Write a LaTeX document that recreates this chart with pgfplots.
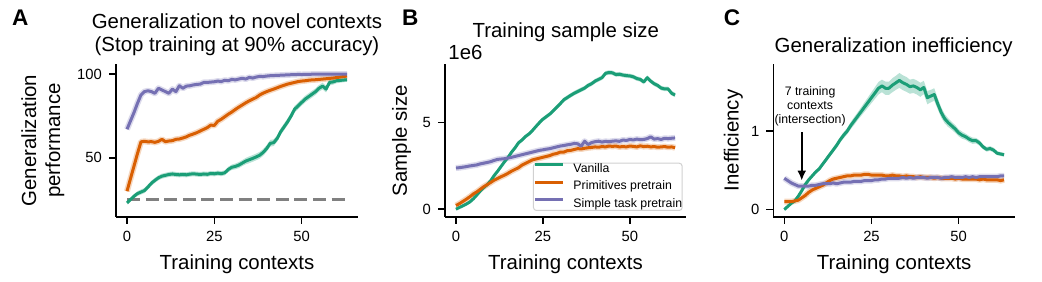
\documentclass[border=0pt]{standalone}
\usepackage{pgfplots}
\pgfplotsset{compat=1.18}
\usepackage{pgfplotstable}
\usepgfplotslibrary{fillbetween}
\usetikzlibrary{arrows.meta}
\usepackage{fontspec}
\setmainfont{Liberation Sans}
\definecolor{cg}{HTML}{1B9E77}
\definecolor{co}{HTML}{D95F02}
\definecolor{cp}{HTML}{7570B3}
\newcommand\tickfont{\fontsize{7.4}{8.8}\selectfont}
\newcommand\labfont{\fontsize{10.2}{12}\selectfont}
\newcommand\smallfont{\fontsize{6.15}{7}\selectfont}
\newcommand\letfont{\fontsize{11.3}{13}\selectfont\bfseries}

\pgfplotstableread{
x g ge o p
0 23.0 1.0 30.0 67.0
1 25.0 1.2 37.5 72.0
2 27.0 1.3 45.0 77.0
3 28.6 1.4 52.5 82.5
4 29.5 1.5 59.5 87.5
5 30.4 1.5 59.8 89.5
6 32.5 1.5 59.5 90.0
7 34.8 1.5 59.6 89.5
8 36.5 1.5 59.2 88.5
9 38.0 1.5 59.8 91.5
10 39.0 1.5 61.0 90.5
11 39.5 1.5 59.6 89.5
12 40.0 1.5 60.0 88.5
13 40.3 1.5 60.2 91.0
14 40.0 1.5 61.0 89.5
15 39.8 1.5 61.2 93.0
16 40.0 1.5 61.8 91.5
17 39.8 1.5 62.5 92.8
18 40.2 1.5 63.5 93.0
19 40.4 1.5 64.2 93.5
20 40.2 1.5 65.0 93.8
21 40.0 1.5 66.0 94.0
22 40.3 1.5 67.0 95.0
23 40.1 1.5 68.0 95.0
24 40.6 1.5 69.5 95.2
25 40.4 1.5 69.3 95.4
26 40.8 1.5 71.8 95.8
27 40.5 1.5 73.0 95.5
28 41.0 1.5 74.5 96.3
29 43.0 1.6 76.0 96.0
30 44.3 1.6 77.3 96.8
31 44.8 1.7 78.8 96.5
32 45.6 1.8 80.2 97.0
33 46.8 1.8 81.5 97.5
34 48.0 1.9 82.8 97.0
35 48.8 2.0 84.0 98.0
36 49.6 2.0 85.0 97.6
37 50.5 2.0 86.0 98.2
38 51.5 2.0 87.5 98.6
39 53.2 2.0 88.6 98.5
40 55.5 2.0 89.5 98.8
41 58.6 2.0 90.3 99.0
42 59.0 2.0 91.0 99.1
43 61.5 2.0 91.8 99.2
44 65.5 2.0 92.6 99.3
45 68.5 2.0 93.3 99.4
46 71.5 2.0 94.0 99.5
47 75.0 2.0 94.5 99.6
48 79.0 2.0 95.0 99.6
49 81.0 2.0 95.5 99.8
50 83.0 2.0 95.8 99.7
51 85.0 2.0 96.0 99.8
52 86.5 2.0 96.3 99.8
53 88.0 2.0 96.5 99.9
54 89.5 2.0 96.6 99.9
55 91.5 2.0 96.8 99.9
56 92.8 2.0 97.0 100.0
57 91.0 2.0 97.2 99.9
58 95.0 1.8 97.4 100.0
59 95.3 1.6 97.6 100.0
60 96.0 1.5 97.9 100.0
61 96.2 1.4 98.2 100.0
62 96.4 1.3 98.5 100.0
63 96.6 1.2 98.8 100.0
}\dataA

\pgfplotstableread{
x g ge o p
0 0.00 0.05 0.21 2.38
1 0.10 0.05 0.32 2.40
2 0.20 0.05 0.45 2.43
3 0.30 0.05 0.58 2.46
4 0.42 0.06 0.72 2.50
5 0.60 0.06 0.88 2.53
6 0.82 0.07 1.00 2.56
7 1.05 0.07 1.15 2.62
8 1.25 0.08 1.30 2.66
9 1.42 0.08 1.42 2.70
10 1.65 0.08 1.55 2.75
11 1.95 0.09 1.68 2.82
12 2.20 0.09 1.78 2.88
13 2.48 0.10 1.88 2.90
14 2.75 0.10 1.97 2.92
15 3.00 0.10 2.08 2.96
16 3.30 0.10 2.20 3.00
17 3.55 0.10 2.30 3.05
18 3.84 0.10 2.40 3.10
19 4.00 0.11 2.55 3.15
20 4.20 0.11 2.65 3.20
21 4.35 0.11 2.75 3.25
22 4.55 0.11 2.85 3.30
23 4.78 0.12 2.90 3.35
24 5.00 0.12 2.95 3.40
25 5.20 0.12 3.00 3.43
26 5.35 0.12 3.05 3.47
27 5.50 0.12 3.10 3.50
28 5.70 0.12 3.18 3.55
29 5.90 0.13 3.22 3.60
30 6.10 0.13 3.30 3.65
31 6.32 0.13 3.30 3.68
32 6.45 0.13 3.38 3.72
33 6.58 0.13 3.40 3.75
34 6.70 0.13 3.45 3.80
35 6.80 0.13 3.50 3.78
36 6.90 0.13 3.48 3.64
37 7.00 0.13 3.52 3.93
38 7.15 0.13 3.55 3.74
39 7.25 0.13 3.57 3.85
40 7.40 0.13 3.60 3.90
41 7.50 0.13 3.58 3.93
42 7.60 0.13 3.62 3.88
43 7.85 0.13 3.60 3.92
44 7.90 0.13 3.65 3.90
45 7.88 0.13 3.63 3.93
46 7.78 0.13 3.65 3.95
47 7.80 0.13 3.60 3.92
48 7.75 0.13 3.62 4.00
49 7.72 0.13 3.60 3.97
50 7.70 0.13 3.65 4.03
51 7.65 0.13 3.63 4.00
52 7.55 0.13 3.60 4.05
53 7.50 0.13 3.66 4.02
54 7.35 0.13 3.62 4.03
55 7.60 0.13 3.64 4.08
56 7.40 0.13 3.60 4.18
57 7.25 0.13 3.62 4.05
58 7.15 0.13 3.58 4.08
59 7.00 0.13 3.60 4.03
60 6.95 0.13 3.62 4.10
61 6.95 0.13 3.58 4.08
62 6.70 0.13 3.60 4.10
63 6.60 0.13 3.55 4.12
}\dataB

\pgfplotstableread{
x g ge o p
0 0.00 0.015 0.10 0.40
1 0.04 0.015 0.10 0.37
2 0.08 0.015 0.10 0.34
3 0.11 0.015 0.11 0.32
4 0.17 0.02 0.12 0.30
5 0.24 0.02 0.15 0.30
6 0.32 0.02 0.18 0.30
7 0.38 0.02 0.22 0.30
8 0.43 0.02 0.25 0.31
9 0.48 0.025 0.27 0.31
10 0.52 0.025 0.29 0.32
11 0.58 0.025 0.31 0.33
12 0.64 0.03 0.34 0.33
13 0.70 0.03 0.37 0.33
14 0.76 0.03 0.39 0.34
15 0.82 0.035 0.40 0.33
16 0.89 0.035 0.41 0.34
17 0.95 0.04 0.42 0.35
18 1.00 0.04 0.43 0.35
19 1.07 0.045 0.43 0.35
20 1.13 0.05 0.44 0.36
21 1.19 0.05 0.44 0.36
22 1.25 0.055 0.44 0.36
23 1.31 0.06 0.45 0.37
24 1.37 0.065 0.45 0.37
25 1.43 0.07 0.44 0.37
26 1.49 0.075 0.44 0.38
27 1.55 0.08 0.44 0.38
28 1.58 0.08 0.44 0.39
29 1.55 0.085 0.43 0.39
30 1.55 0.085 0.43 0.40
31 1.59 0.09 0.44 0.40
32 1.62 0.09 0.43 0.40
33 1.65 0.095 0.43 0.40
34 1.62 0.095 0.42 0.41
35 1.60 0.095 0.43 0.40
36 1.57 0.09 0.42 0.41
37 1.58 0.09 0.42 0.40
38 1.56 0.09 0.41 0.41
39 1.53 0.09 0.42 0.41
40 1.56 0.085 0.41 0.41
41 1.43 0.085 0.41 0.40
42 1.45 0.08 0.41 0.41
43 1.47 0.08 0.40 0.41
44 1.35 0.07 0.41 0.41
45 1.24 0.065 0.40 0.40
46 1.16 0.06 0.40 0.41
47 1.11 0.055 0.40 0.41
48 1.07 0.05 0.40 0.42
49 1.03 0.05 0.39 0.41
50 0.98 0.045 0.40 0.41
51 0.95 0.045 0.39 0.41
52 0.93 0.04 0.39 0.42
53 0.90 0.04 0.39 0.41
54 0.88 0.04 0.39 0.42
55 0.88 0.035 0.39 0.41
56 0.85 0.035 0.38 0.42
57 0.80 0.03 0.39 0.42
58 0.77 0.03 0.38 0.42
59 0.78 0.03 0.38 0.42
60 0.76 0.03 0.38 0.42
61 0.72 0.025 0.38 0.42
62 0.71 0.025 0.37 0.43
63 0.70 0.025 0.38 0.43
}\dataC

\pgfplotsset{
  myax/.style={
    anchor=south west, scale only axis, height=76.5pt,
    axis lines=left, axis line style={-, line width=0.8pt, black},
    tick align=outside, major tick length=3.5pt,
    every tick/.style={black, line width=0.8pt},
    xmin=-3.15, xmax=66.15, xtick={0,25,50},
    tick label style={font=\tickfont},
    /pgf/number format/assume math mode=true,
    label style={font=\labfont},
    xlabel={Training contexts},
    xlabel style={at={(axis description cs:0.5,-0.343)}, anchor=base},
    clip=false,
  },
  mainline/.style={line width=1.5pt, line join=round},
  haloline/.style={line width=3.0pt, line join=round, opacity=0.25, forget plot},
}

\begin{document}
\begin{tikzpicture}

% ---------- Panel A ----------
\begin{axis}[myax, at={(58pt,32.5pt)}, width=121pt,
  ymin=14.6, ymax=106, ytick={50,100},
  ylabel={Generalization\\performance},
  ylabel style={at={(axis description cs:-0.302,0.5)}, anchor=center, align=center},
]
\addplot[gray, line width=1.6pt, dash pattern=on 6.5pt off 2.8pt, forget plot] coordinates {(0,25) (63,25)};
\addplot[draw=none, name path=au, forget plot] table[x=x, y expr=\thisrow{g}+\thisrow{ge}]{\dataA};
\addplot[draw=none, name path=al, forget plot] table[x=x, y expr=\thisrow{g}-\thisrow{ge}]{\dataA};
\addplot[cg, fill opacity=0.3, draw=none, forget plot] fill between[of=au and al];
\addplot[co, haloline] table[x=x, y=o]{\dataA};
\addplot[cp, haloline] table[x=x, y=p]{\dataA};
\addplot[cg, mainline] table[x=x, y=g]{\dataA};
\addplot[co, mainline] table[x=x, y=o]{\dataA};
\addplot[cp, mainline] table[x=x, y=p]{\dataA};
\end{axis}

% ---------- Panel B ----------
\begin{axis}[myax, at={(222.5pt,32.5pt)}, width=120.5pt,
  ymin=-0.45, ymax=8.39, ytick={0,5},
  ylabel={Sample size},
  ylabel style={at={(axis description cs:-0.1805,0.5)}, anchor=center},
  legend style={at={(0.365,0.355)}, anchor=north west,
    draw=black!18, line width=0.5pt, rounded corners=1.5pt, fill=white, fill opacity=0.8, text opacity=1,
    inner xsep=0pt, inner ysep=0pt, font=\smallfont, row sep=2.6pt, column sep=4.5pt,
    nodes={inner sep=0pt, text height=4.5pt, text depth=1.65pt}},
  legend cell align=left,
  legend image code/.code={\draw[#1, line width=1.5pt] (0pt,2.2pt) -- (14pt,2.2pt);},
]
\addplot[draw=none, name path=bu, forget plot] table[x=x, y expr=\thisrow{g}+\thisrow{ge}]{\dataB};
\addplot[draw=none, name path=bl, forget plot] table[x=x, y expr=\thisrow{g}-\thisrow{ge}]{\dataB};
\addplot[cg, fill opacity=0.3, draw=none, forget plot] fill between[of=bu and bl];
\addplot[co, haloline] table[x=x, y=o]{\dataB};
\addplot[cp, haloline] table[x=x, y=p]{\dataB};
\addplot[cg, mainline] table[x=x, y=g]{\dataB};
\addplot[co, mainline] table[x=x, y=o]{\dataB};
\addplot[cp, mainline] table[x=x, y=p]{\dataB};
\legend{Vanilla, Primitives pretrain, Simple task pretrain}
\end{axis}

% ---------- Panel C ----------
\begin{axis}[myax, at={(386.65pt,32.5pt)}, width=120.85pt,
  ymin=-0.095, ymax=1.86, ytick={0,1},
  ylabel={Inefficiency},
  ylabel style={at={(axis description cs:-0.1655,0.5)}, anchor=center},
]
\addplot[draw=none, name path=cu, forget plot] table[x=x, y expr=\thisrow{g}+\thisrow{ge}]{\dataC};
\addplot[draw=none, name path=cl, forget plot] table[x=x, y expr=\thisrow{g}-\thisrow{ge}]{\dataC};
\addplot[cg, fill opacity=0.3, draw=none, forget plot] fill between[of=cu and cl];
\addplot[co, haloline] table[x=x, y=o]{\dataC};
\addplot[cp, haloline] table[x=x, y=p]{\dataC};
\addplot[cg, mainline] table[x=x, y=g]{\dataC};
\addplot[co, mainline] table[x=x, y=o]{\dataC};
\addplot[cp, mainline] table[x=x, y=p]{\dataC};
\draw[line width=1pt, -{Latex[length=5pt,width=4.5pt]}] (axis cs:5,0.99) -- (axis cs:5,0.37);
\node[font=\smallfont, align=center, anchor=south, inner sep=0pt] at (axis cs:7.4,1.06) {7 training\\contexts\\(intersection)};
\end{axis}

% ---------- titles and panel letters ----------
\node[font=\labfont, anchor=base] at (118.5pt,126.5pt) {Generalization to novel contexts};
\node[font=\labfont, anchor=base] at (118.5pt,115pt) {(Stop training at 90\% accuracy)};
\node[font=\labfont, anchor=base] at (282.9pt,122pt) {Training sample size};
\node[font=\labfont, anchor=base west, inner sep=0pt] at (224pt,111.3pt) {1e6};
\node[font=\labfont, anchor=base] at (446.8pt,114.6pt) {Generalization inefficiency};
\node[font=\letfont, anchor=base west, inner sep=0pt] at (5.85pt,128pt) {A};
\node[font=\letfont, anchor=base west, inner sep=0pt] at (200.8pt,128pt) {B};
\node[font=\letfont, anchor=base west, inner sep=0pt] at (361.7pt,128pt) {C};

\pgfresetboundingbox
\useasboundingbox (0,0) rectangle (521pt,141pt);
\end{tikzpicture}
\end{document}
